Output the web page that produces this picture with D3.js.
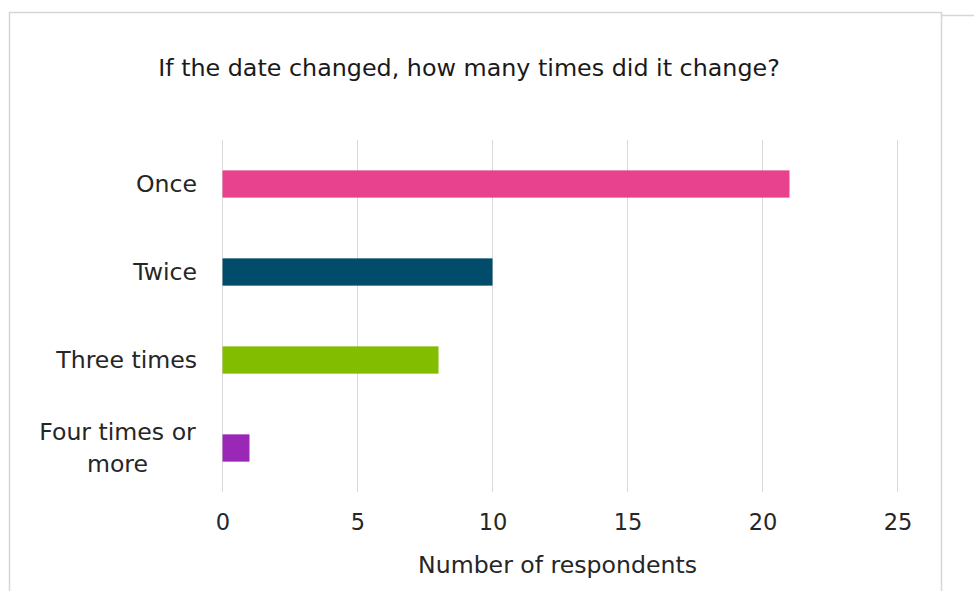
<!DOCTYPE html>
<html><head><meta charset="utf-8">
<script src="https://cdn.jsdelivr.net/npm/d3@7"></script>
<style>
html,body{margin:0;padding:0;background:#fff;}
svg{display:block;font-family:"DejaVu Sans",sans-serif;}
</style></head>
<body>
<svg id="chart" width="974" height="591"></svg>
<script>
const categories = ["Once", "Twice", "Three times", "Four times or more"];
const categoryLines = [["Once"], ["Twice"], ["Three times"], ["Four times or", "more"]];
const values = [21, 10, 8, 1];
const colors = ["#E8428F", "#024C6B", "#83BD00", "#9B27B6"];
const xTicks = [0, 5, 10, 15, 20, 25];
const title = "If the date changed, how many times did it change?";
const xTitle = "Number of respondents";

const svg = d3.select("#chart");
const FS = 23.6;

// frame
svg.append("rect").attr("x", 9.5).attr("y", 12.5).attr("width", 932).attr("height", 600)
  .attr("fill", "#fff").attr("stroke", "#d6d6d6").attr("stroke-width", 1.5);
svg.append("line").attr("x1", 942).attr("x2", 974).attr("y1", 15.5).attr("y2", 15.5)
  .attr("stroke", "#d6d6d6").attr("stroke-width", 1.5);

const x = d3.scaleLinear().domain([0, 25]).range([222.5, 897.5]);
const y = d3.scaleBand().domain(categories).range([140, 492]).paddingInner(0.69).paddingOuter(0.345);

// gridlines
svg.append("g").selectAll("line").data(xTicks).join("line")
  .attr("x1", d => x(d)).attr("x2", d => x(d)).attr("y1", 140).attr("y2", 492)
  .attr("stroke", "#d9d9d9").attr("stroke-width", 1);

// bars
svg.append("g").selectAll("rect").data(values).join("rect")
  .attr("x", x(0)).attr("y", (d, i) => y(categories[i]))
  .attr("width", d => x(d) - x(0)).attr("height", y.bandwidth())
  .attr("fill", (d, i) => colors[i]);

// x axis
const xAxis = d3.axisBottom(x).tickValues(xTicks).tickSize(0).tickPadding(0);
const gx = svg.append("g").attr("transform", "translate(0,514)").call(xAxis);
gx.select(".domain").remove();
gx.selectAll("text").attr("font-size", 22.5).attr("fill", "#262626")
  .attr("font-family", "DejaVu Sans, sans-serif");

// y labels
const gy = svg.append("g");
categoryLines.forEach((lines, i) => {
  const cy = y(categories[i]) + y.bandwidth() / 2;
  const t = gy.append("text").attr("font-size", FS).attr("fill", "#262626");
  const n = lines.length;
  lines.forEach((ln, j) => {
    t.append("tspan").attr("x", n > 1 ? 117.5 : 197).attr("text-anchor", n > 1 ? "middle" : "end")
      .attr("y", cy + (j - (n - 1) / 2) * 32).attr("dy", "0.35em").text(ln);
  });
});

// titles
svg.append("text").attr("x", 469).attr("y", 68).attr("text-anchor", "middle").attr("dy", "0.35em")
  .attr("font-size", 23.8).attr("fill", "#1a1a1a").text(title);
svg.append("text").attr("x", 557.5).attr("y", 565).attr("text-anchor", "middle").attr("dy", "0.35em")
  .attr("font-size", FS).attr("fill", "#262626").text(xTitle);
</script>
</body></html>
